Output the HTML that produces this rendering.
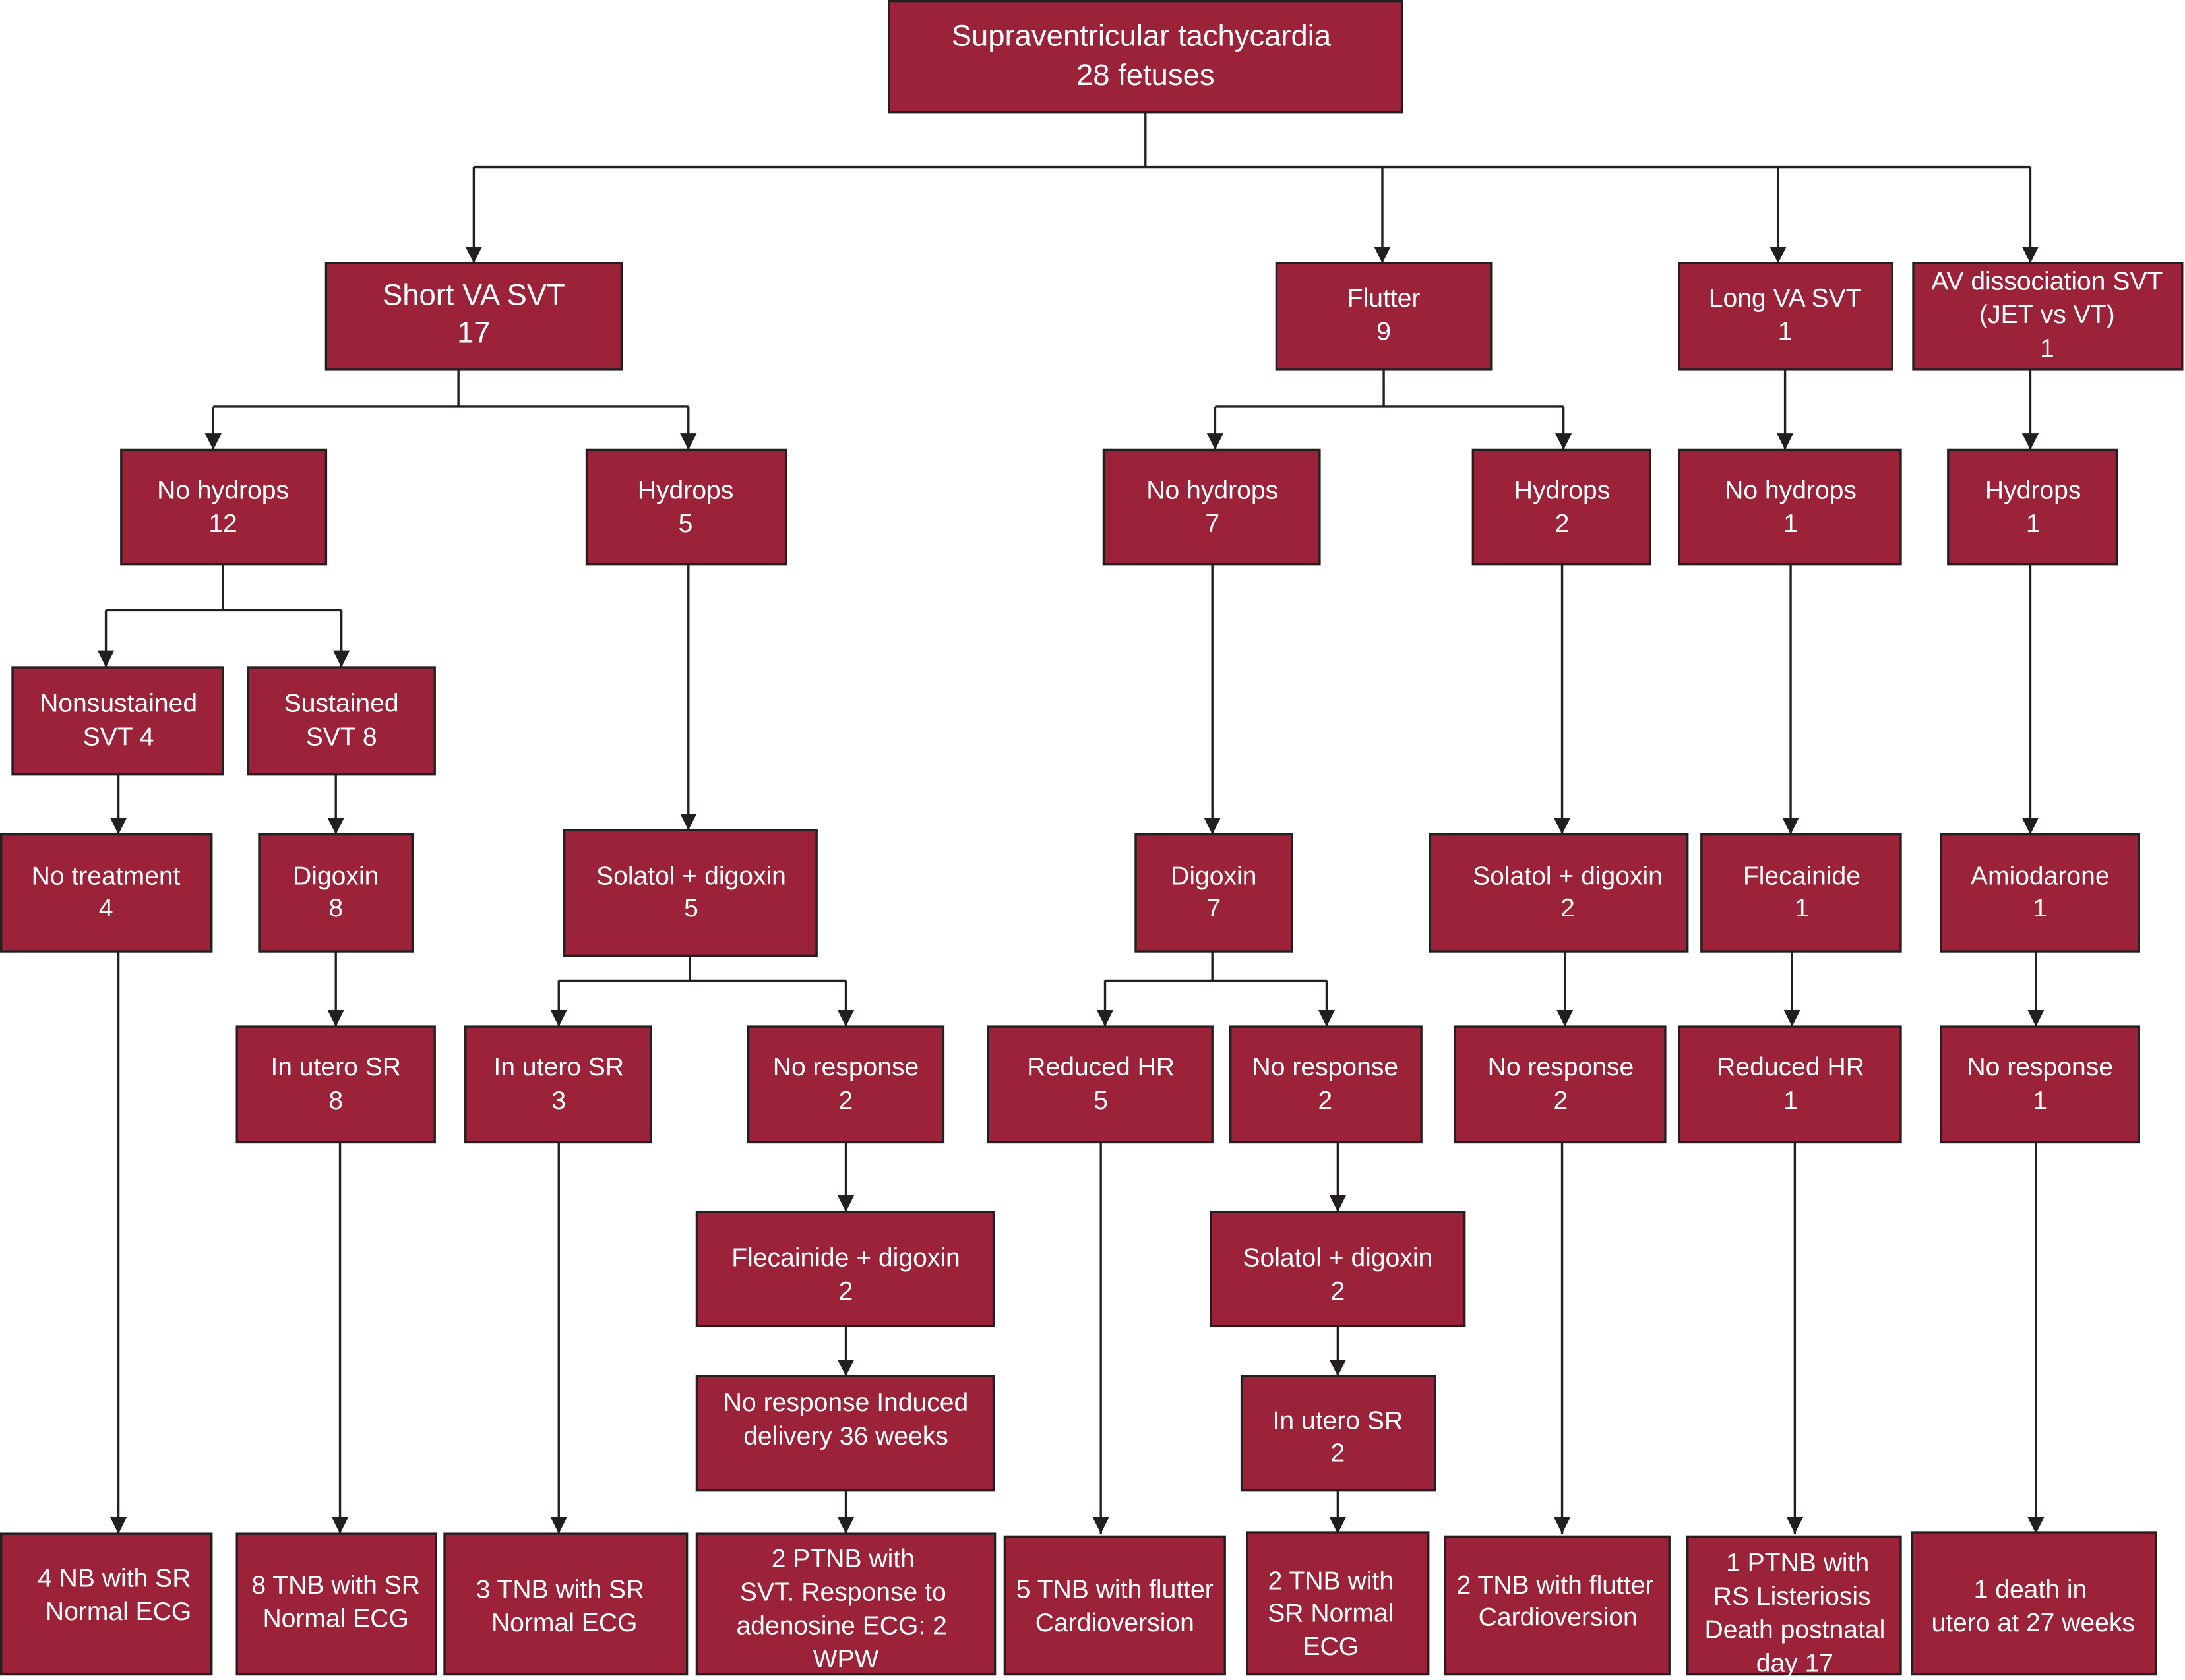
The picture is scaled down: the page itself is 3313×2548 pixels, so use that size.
<!DOCTYPE html>
<html><head><meta charset="utf-8">
<style>
html,body{margin:0;padding:0;background:#fff;}
svg{display:block;}
.b{fill:#9b2238;stroke:#231f20;stroke-width:1.6;}
.l{fill:none;stroke:#231f20;stroke-width:1.6;}
text{font-family:"Liberation Sans",sans-serif;font-size:18.5px;fill:#fff;text-anchor:middle;}
.big{font-size:21.5px;}
</style></head><body>
<svg width="3313" height="2548" viewBox="0 0 1568 1206" preserveAspectRatio="none" xmlns="http://www.w3.org/2000/svg">
<defs><marker id="a" viewBox="0 0 12 12" refX="12" refY="6" markerWidth="12" markerHeight="12" markerUnits="userSpaceOnUse" orient="auto">
<path d="M0,0 L12,6 L0,12 Z" fill="#231f20"/></marker></defs>

<!-- connectors -->
<g class="l">
<path d="M822,81 V120 M340,120 H1457"/>
<path d="M340,120 V189" marker-end="url(#a)"/>
<path d="M992,120 V189" marker-end="url(#a)"/>
<path d="M1276,120 V189" marker-end="url(#a)"/>
<path d="M1457,120 V189" marker-end="url(#a)"/>

<path d="M329,265 V292 M153,292 H494"/>
<path d="M153,292 V323" marker-end="url(#a)"/>
<path d="M494,292 V323" marker-end="url(#a)"/>
<path d="M993,265 V292 M872,292 H1122"/>
<path d="M872,292 V323" marker-end="url(#a)"/>
<path d="M1122,292 V323" marker-end="url(#a)"/>
<path d="M1281,265 V323" marker-end="url(#a)"/>
<path d="M1457,265 V323" marker-end="url(#a)"/>

<path d="M160,405 V438 M76,438 H245"/>
<path d="M76,438 V479" marker-end="url(#a)"/>
<path d="M245,438 V479" marker-end="url(#a)"/>
<path d="M85,556 V599" marker-end="url(#a)"/>
<path d="M241,556 V599" marker-end="url(#a)"/>
<path d="M494,405 V596" marker-end="url(#a)"/>
<path d="M870,405 V599" marker-end="url(#a)"/>
<path d="M1121,405 V599" marker-end="url(#a)"/>
<path d="M1285,405 V599" marker-end="url(#a)"/>
<path d="M1457,405 V599" marker-end="url(#a)"/>

<path d="M241,683 V737" marker-end="url(#a)"/>
<path d="M495,686 V704 M401,704 H607"/>
<path d="M401,704 V737" marker-end="url(#a)"/>
<path d="M607,704 V737" marker-end="url(#a)"/>
<path d="M870,683 V704 M793,704 H952"/>
<path d="M793,704 V737" marker-end="url(#a)"/>
<path d="M952,704 V737" marker-end="url(#a)"/>
<path d="M1123,683 V737" marker-end="url(#a)"/>
<path d="M1286,683 V737" marker-end="url(#a)"/>
<path d="M1461,683 V737" marker-end="url(#a)"/>

<path d="M607,820 V870" marker-end="url(#a)"/>
<path d="M607,952 V988" marker-end="url(#a)"/>
<path d="M960,820 V870" marker-end="url(#a)"/>
<path d="M960,952 V988" marker-end="url(#a)"/>

<path d="M85,683 V1101" marker-end="url(#a)"/>
<path d="M244,820 V1101" marker-end="url(#a)"/>
<path d="M401,820 V1101" marker-end="url(#a)"/>
<path d="M607,1070 V1101" marker-end="url(#a)"/>
<path d="M790,820 V1101" marker-end="url(#a)"/>
<path d="M960,1070 V1101" marker-end="url(#a)"/>
<path d="M1121,820 V1101" marker-end="url(#a)"/>
<path d="M1288,820 V1101" marker-end="url(#a)"/>
<path d="M1461,820 V1101" marker-end="url(#a)"/>
</g>

<!-- boxes -->
<g class="b">
<rect x="638" y="0.8" width="368" height="80"/>
<rect x="234" y="189" width="212" height="76"/>
<rect x="916" y="189" width="154" height="76"/>
<rect x="1205" y="189" width="153" height="76"/>
<rect x="1373" y="189" width="193" height="76"/>

<rect x="87" y="323" width="147" height="82"/>
<rect x="421" y="323" width="143" height="82"/>
<rect x="792" y="323" width="155" height="82"/>
<rect x="1057" y="323" width="127" height="82"/>
<rect x="1205" y="323" width="159" height="82"/>
<rect x="1398" y="323" width="121" height="82"/>

<rect x="9" y="479" width="151" height="77"/>
<rect x="178" y="479" width="134" height="77"/>

<rect x="0.8" y="599" width="151" height="84"/>
<rect x="186" y="599" width="110" height="84"/>
<rect x="405" y="596" width="181" height="90"/>
<rect x="815" y="599" width="112" height="84"/>
<rect x="1026" y="599" width="185" height="84"/>
<rect x="1221" y="599" width="143" height="84"/>
<rect x="1393" y="599" width="142" height="84"/>

<rect x="170" y="737" width="142" height="83"/>
<rect x="334" y="737" width="133" height="83"/>
<rect x="537" y="737" width="140" height="83"/>
<rect x="709" y="737" width="161" height="83"/>
<rect x="883" y="737" width="137" height="83"/>
<rect x="1044" y="737" width="151" height="83"/>
<rect x="1205" y="737" width="159" height="83"/>
<rect x="1393" y="737" width="142" height="83"/>

<rect x="500" y="870" width="213" height="82"/>
<rect x="869" y="870" width="182" height="82"/>
<rect x="500" y="988" width="213" height="82"/>
<rect x="891" y="988" width="139" height="82"/>

<rect x="0.8" y="1101" width="151" height="101"/>
<rect x="170" y="1101" width="143" height="101"/>
<rect x="319" y="1101" width="174" height="101"/>
<rect x="500" y="1101" width="214" height="101"/>
<rect x="721" y="1103" width="158" height="99"/>
<rect x="895" y="1100" width="130" height="102"/>
<rect x="1037" y="1103" width="161" height="99"/>
<rect x="1211" y="1103" width="153" height="99"/>
<rect x="1372" y="1100" width="175" height="102"/>
</g>

<!-- text -->
<text class="big" x="819" y="33">Supraventricular tachycardia</text>
<text class="big" x="822" y="61">28 fetuses</text>
<text class="big" x="340" y="219">Short VA SVT</text>
<text class="big" x="340" y="246">17</text>
<text x="993" y="220">Flutter</text><text x="993" y="244">9</text>
<text x="1281" y="220">Long VA SVT</text><text x="1281" y="244">1</text>
<text x="1469" y="208">AV dissociation SVT</text><text x="1469" y="232">(JET vs VT)</text><text x="1469" y="256">1</text>

<text x="160" y="358">No hydrops</text><text x="160" y="382">12</text>
<text x="492" y="358">Hydrops</text><text x="492" y="382">5</text>
<text x="870" y="358">No hydrops</text><text x="870" y="382">7</text>
<text x="1121" y="358">Hydrops</text><text x="1121" y="382">2</text>
<text x="1285" y="358">No hydrops</text><text x="1285" y="382">1</text>
<text x="1459" y="358">Hydrops</text><text x="1459" y="382">1</text>

<text x="85" y="511">Nonsustained</text><text x="85" y="535">SVT 4</text>
<text x="245" y="511">Sustained</text><text x="245" y="535">SVT 8</text>

<text x="76" y="635">No treatment</text><text x="76" y="658">4</text>
<text x="241" y="635">Digoxin</text><text x="241" y="658">8</text>
<text x="496" y="635">Solatol + digoxin</text><text x="496" y="658">5</text>
<text x="871" y="635">Digoxin</text><text x="871" y="658">7</text>
<text x="1125" y="635">Solatol + digoxin</text><text x="1125" y="658">2</text>
<text x="1293" y="635">Flecainide</text><text x="1293" y="658">1</text>
<text x="1464" y="635">Amiodarone</text><text x="1464" y="658">1</text>

<text x="241" y="772">In utero SR</text><text x="241" y="796">8</text>
<text x="401" y="772">In utero SR</text><text x="401" y="796">3</text>
<text x="607" y="772">No response</text><text x="607" y="796">2</text>
<text x="790" y="772">Reduced HR</text><text x="790" y="796">5</text>
<text x="951" y="772">No response</text><text x="951" y="796">2</text>
<text x="1120" y="772">No response</text><text x="1120" y="796">2</text>
<text x="1285" y="772">Reduced HR</text><text x="1285" y="796">1</text>
<text x="1464" y="772">No response</text><text x="1464" y="796">1</text>

<text x="607" y="909">Flecainide + digoxin</text><text x="607" y="933">2</text>
<text x="960" y="909">Solatol + digoxin</text><text x="960" y="933">2</text>
<text x="607" y="1013">No response Induced</text><text x="607" y="1037">delivery 36 weeks</text>
<text x="960" y="1026">In utero SR</text><text x="960" y="1049">2</text>

<text x="82" y="1139">4 NB with SR</text><text x="85" y="1163">Normal ECG</text>
<text x="241" y="1144">8 TNB with SR</text><text x="241" y="1168">Normal ECG</text>
<text x="402" y="1147">3 TNB with SR</text><text x="405" y="1171">Normal ECG</text>
<text x="605" y="1125">2 PTNB with</text><text x="605" y="1149">SVT. Response to</text><text x="604" y="1173">adenosine  ECG: 2</text><text x="607" y="1197">WPW</text>
<text x="800" y="1147">5 TNB with flutter</text><text x="800" y="1171">Cardioversion</text>
<text x="955" y="1141">2 TNB with</text><text x="955" y="1164">SR Normal</text><text x="955" y="1188">ECG</text>
<text x="1116" y="1144">2 TNB with flutter</text><text x="1118" y="1167">Cardioversion</text>
<text x="1290" y="1128">1 PTNB with</text><text x="1286" y="1152">RS  Listeriosis</text><text x="1288" y="1176">Death postnatal</text><text x="1288" y="1200">day 17</text>
<text x="1457" y="1147">1 death in</text><text x="1459" y="1171">utero at 27 weeks</text>
</svg>
</body></html>
